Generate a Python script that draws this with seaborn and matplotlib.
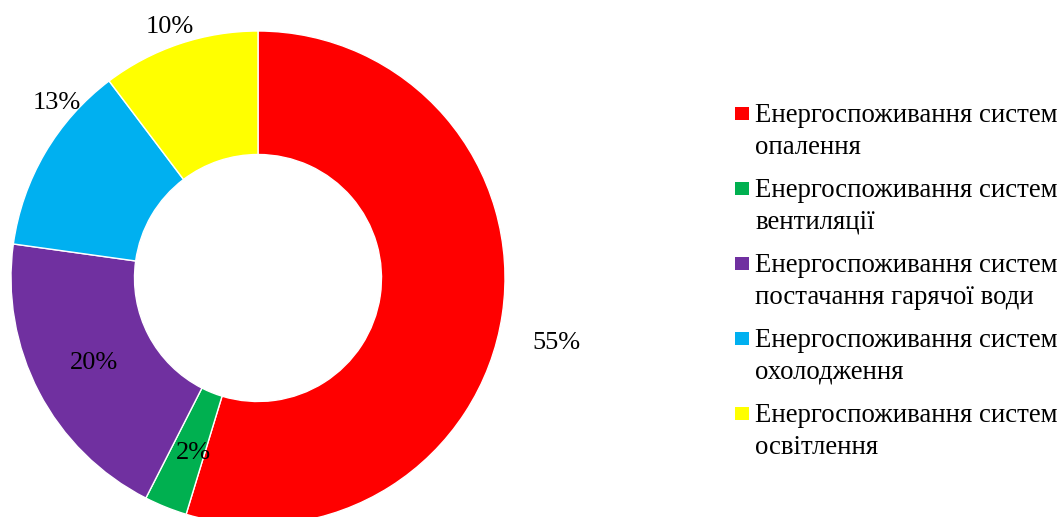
import matplotlib
matplotlib.use("Agg")
import matplotlib.pyplot as plt
from matplotlib.patches import Rectangle
import seaborn as sns

# ---- data ----
categories = [
    "Енергоспоживання систем\nопалення",
    "Енергоспоживання систем\nвентиляції",
    "Енергоспоживання систем\nпостачання гарячої води",
    "Енергоспоживання систем\nохолодження",
    "Енергоспоживання систем\nосвітлення",
]
values = [54.7, 2.8, 19.7, 12.5, 10.3]
pct_labels = ["55%", "2%", "20%", "13%", "10%"]
colors = ["#FF0000", "#00B050", "#7030A0", "#00B0F0", "#FFFF00"]
# label positions (data units, ring outer radius = 1)
label_xy = [(1.21, -0.263), (-0.263, -0.709), (-0.664, -0.344), (-0.814, 0.709), (-0.356, 1.016)]

sns.set_theme(style="white")
plt.rcParams["font.family"] = ["Liberation Serif", "DejaVu Serif"]

W, H = 1059, 517
fig = plt.figure(figsize=(W / 100, H / 100), dpi=100)
ax = fig.add_axes([0, 0, 1, 1])

ax.pie(values, colors=colors, startangle=90, counterclock=False, radius=1.0,
       wedgeprops=dict(width=0.5, edgecolor="white", linewidth=1.0))

cx, cy, R = 258, 278, 247
ax.set_xlim(-cx / R, (W - cx) / R)
ax.set_ylim(-(H - cy) / R, cy / R)
ax.set_aspect("auto")
ax.axis("off")

for (x, y), t in zip(label_xy, pct_labels):
    ax.text(x, y, t, ha="center", va="center", fontsize=19, color="black")

# ---- legend (manual) ----
base0 = 122
step = 75
line_h = 32
for i, (lab, col) in enumerate(zip(categories, colors)):
    b = base0 + i * step
    sq_c = b - 8.5
    fig.add_artist(Rectangle((735 / W, 1 - (sq_c + 6.5) / H), 14 / W, 13 / H,
                             transform=fig.transFigure, facecolor=col, edgecolor="none"))
    for j, line in enumerate(lab.split("\n")):
        fig.text(755 / W, 1 - (b + j * line_h) / H, line, ha="left", va="baseline",
                 fontsize=19.3, color="black")

fig.savefig("out.png", dpi=100, facecolor="white")
